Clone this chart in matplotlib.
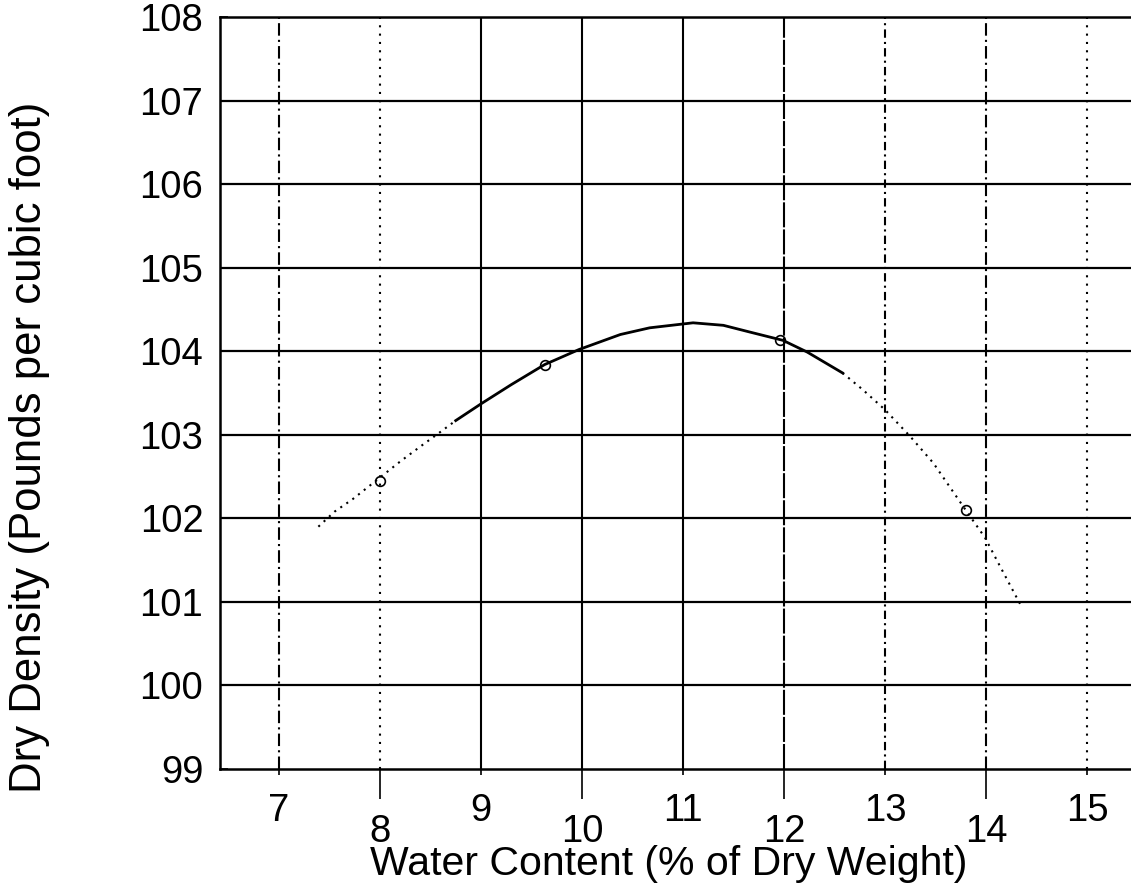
import numpy as np
import matplotlib
matplotlib.use('Agg')
import matplotlib.pyplot as plt

plt.rcParams['font.family'] = ['Liberation Sans', 'DejaVu Sans']

# Curva de compactacion
agua = [7.39, 7.55, 7.73, 7.95, 8.20, 8.40, 8.56, 8.75, 9.00, 9.30, 9.63, 9.97,
        10.38, 10.67, 11.10, 11.40, 11.66, 11.99, 12.23, 12.58, 12.78, 13.00,
        13.25, 13.48, 13.81, 13.99, 14.12, 14.34]
densidad = [101.90, 102.08, 102.23, 102.44, 102.68, 102.86, 103.00, 103.17, 103.37,
            103.60, 103.84, 104.02, 104.20, 104.28, 104.34, 104.31, 104.23, 104.13,
            103.99, 103.74, 103.54, 103.30, 102.98, 102.66, 102.08, 101.77, 101.47,
            100.97]

# Puntos medidos
agua_med = [8.00, 9.63, 11.96, 13.80]
dens_med = [102.45, 103.84, 104.14, 102.10]

xticks_impar = [7, 9, 11, 13, 15]
xticks_par = [8, 10, 12, 14]
yticks = [99, 100, 101, 102, 103, 104, 105, 106, 107, 108]

# tramo continuo de la curva (el resto punteado)
i0, i1 = 7, 19

fig = plt.figure(figsize=(11.31, 8.83), dpi=100)
ax = fig.add_axes([220/1131, 1 - 769/883, 911/1131, 752/883])

ax.set_xlim(6.416, 15.436)
ax.set_ylim(99, 108)

# Rejilla horizontal continua
for v in yticks[1:-1]:
    ax.axhline(v, color='black', lw=1.6, zorder=1)

# Rejilla vertical con estilos distintos
estilos = {7: (0, (6, 2, 1, 2)), 8: (0, (1, 3)), 9: '-', 10: '-', 11: '-',
           12: (0, (12, 1)), 13: (0, (4, 2, 1, 2)), 14: (0, (6, 2, 1, 2)),
           15: (0, (1, 3))}
for v, ls in estilos.items():
    ax.axvline(v, color='black', lw=1.5, linestyle=ls, zorder=1)

x = np.array(agua)
y = np.array(densidad)
ax.plot(x[:i0+1], y[:i0+1], color='black', lw=1.5, linestyle=(0, (1, 2.5)), zorder=3)
ax.plot(x[i0:i1+1], y[i0:i1+1], color='black', lw=2.0, zorder=3)
ax.plot(x[i1:], y[i1:], color='black', lw=1.5, linestyle=(0, (1, 2.5)), zorder=3)
ax.plot(agua_med, dens_med, 'o', ms=7, mfc='none', mec='black', mew=1.2, zorder=4)

for s in ['top', 'bottom', 'left']:
    ax.spines[s].set_linewidth(1.8)
ax.spines['right'].set_visible(False)

ax.set_xticks(xticks_impar, labels=[str(t) for t in xticks_impar])
ax.set_xticks(xticks_par, labels=[str(t) for t in xticks_par], minor=True)
ax.tick_params(axis='x', which='major', direction='out', length=4.5, width=1.2,
               pad=13, labelsize=27.5)
ax.tick_params(axis='x', which='minor', direction='out', length=21.5, width=1.2,
               pad=11, labelsize=27.5)
ax.set_yticks(yticks, labels=[str(t) for t in yticks])
ax.tick_params(axis='y', direction='in', length=6, width=1.2, pad=12, labelsize=27.5)

ax.set_xlabel('Water Content (% of Dry Weight)', fontsize=29.5)
ax.xaxis.set_label_coords(0.492, -0.101)
ax.set_ylabel('Dry Density (Pounds per cubic foot)', fontsize=31.5)
ax.yaxis.set_label_coords(-0.187, 0.428)

fig.savefig('out.png', dpi=100)
